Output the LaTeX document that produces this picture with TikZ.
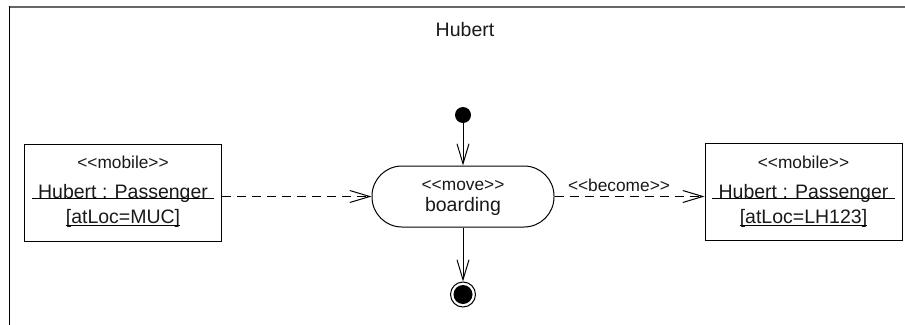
\documentclass[tikz,border=0pt]{standalone}
\usepackage{fontspec}
\newfontfamily\umlfont{Liberation Sans}
\usetikzlibrary{arrows.meta}
\newcommand\umlst[1]{<\kern0pt<\kern0pt#1\kern0pt>\kern0pt>}
\begin{document}
\begin{tikzpicture}[x=1pt,y=-1pt,
  big/.style={font=\umlfont\fontsize{19.5}{22}\selectfont, inner sep=0pt, text=black!90},
  stereo/.style={font=\umlfont\fontsize{17.3}{19}\selectfont, inner sep=0pt, text=black!90},
  objbox/.style={draw, line width=1pt, minimum width=197pt, minimum height=97pt, inner sep=0pt},
  flow/.style={line width=1pt, -{Straight Barb[length=20pt,width=12pt,line width=1pt]}},
  dep/.style={flow, dash pattern=on 9pt off 6pt},
  uline/.style={line width=1pt}]
\useasboundingbox (0,0) rectangle (905,324);
% frame
\draw[black!60, line width=1.6pt] (9.5,7) -- (906,7);
\draw[line width=1.2pt] (9.5,6.2) -- (9.5,325);
\node[big] (title) at (465,30) {Hubert};
% initial and final
\node[circle, fill, inner sep=0pt, minimum size=16pt] (init) at (463,115) {};
\node[circle, draw, line width=1pt, inner sep=0pt, minimum size=25pt] (final) at (463,294.5) {};
\node[circle, fill, inner sep=0pt, minimum size=19pt] (finaldot) at (final.center) {};
% activity
\node[draw, line width=1pt, rounded corners=30pt, minimum width=182pt, minimum height=61pt] (act) at (463,196.5) {};
\node[stereo, anchor=base] (actst) at (463,190) {\umlst{move}};
\node[big, anchor=base] (actname) at (463,211) {boarding};
% left object
\node[objbox] (lbox) at (123,192.5) {};
\node[stereo, anchor=base] (lst) at (123,168) {\umlst{mobile}};
\node[big, anchor=base] (lname) at (123,198) {Hubert : Passenger};
\node[big, anchor=base] (lloc) at (123,223) {[atLoc=MUC]};
\draw[uline] ([xshift=-6pt]lname.base west) -- ([xshift=6pt]lname.base east);
\draw[uline] ([yshift=-2pt]lloc.base west) -- ([yshift=-2pt]lloc.base east);
% right object
\node[objbox] (rbox) at (803.5,192) {};
\node[stereo, anchor=base] (rst) at (803.5,168) {\umlst{mobile}};
\node[big, anchor=base] (rname) at (803.5,198) {Hubert : Passenger};
\node[big, anchor=base] (rloc) at (803.5,223) {[atLoc=LH123]};
\draw[uline] ([xshift=-6pt]rname.base west) -- ([xshift=6pt]rname.base east);
\draw[uline] ([yshift=-2pt]rloc.base west) -- ([yshift=-2pt]rloc.base east);
% connectors
\draw[flow] (init) -- (act);
\draw[flow] (act) -- (final);
\draw[dep] (lbox.east |- act.west) -- (act.west);
\draw[dep] (act.east) -- (rbox.west |- act.east)
  node[stereo, pos=0.43, yshift=11pt] (become) {\umlst{become}};
\end{tikzpicture}
\end{document}
